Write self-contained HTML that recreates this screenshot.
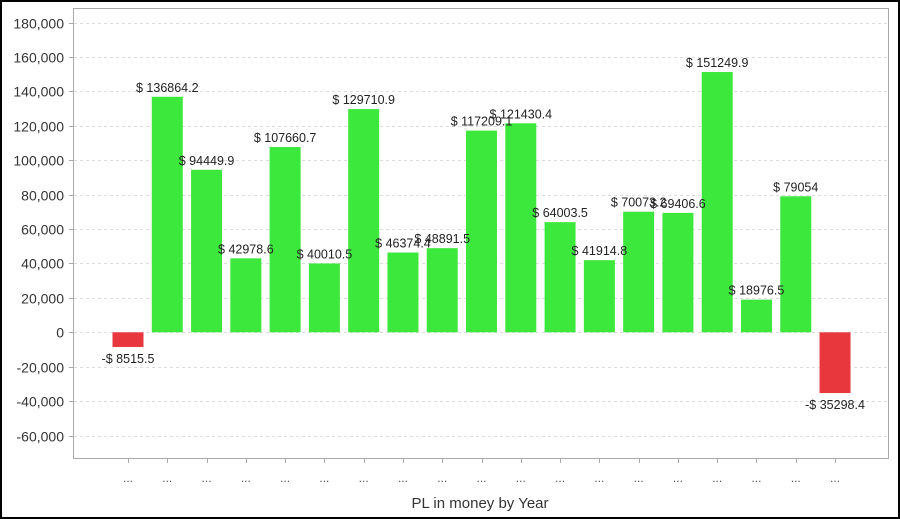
<!DOCTYPE html>
<html><head><meta charset="utf-8"><style>
html,body{margin:0;padding:0;background:#fff}
svg{display:block;font-family:"Liberation Sans",Arial,sans-serif}
</style></head><body>
<svg id="chart" width="900" height="519" viewBox="0 0 900 519" xmlns="http://www.w3.org/2000/svg">
<rect x="1" y="1" width="898" height="517" fill="#fff" stroke="#000" stroke-width="2"/>
<rect x="73.5" y="8.5" width="815" height="450" fill="#fff" stroke="#aaa" stroke-width="1"/>
<g id="grid"></g><g id="bars"></g><g id="labels"></g><g id="axes"></g>
<text x="480" y="508" font-size="15" text-anchor="middle" fill="#333">PL in money by Year</text>
</svg>
<script>
const categories = ["...","...","...","...","...","...","...","...","...","...","...","...","...","...","...","...","...","...","..."];
const values = [-8515.5,136864.2,94449.9,42978.6,107660.7,40010.5,129710.9,46374.4,48891.5,117209.1,121430.4,64003.5,41914.8,70073.2,69406.6,151249.9,18976.5,79054,-35298.4];
const valueLabels = ["-$ 8515.5","$ 136864.2","$ 94449.9","$ 42978.6","$ 107660.7","$ 40010.5","$ 129710.9","$ 46374.4","$ 48891.5","$ 117209.1","$ 121430.4","$ 64003.5","$ 41914.8","$ 70073.2","$ 69406.6","$ 151249.9","$ 18976.5","$ 79054","-$ 35298.4"];
const yTicks = [180000,160000,140000,120000,100000,80000,60000,40000,20000,0,-20000,-40000,-60000];
const NS="http://www.w3.org/2000/svg";
const y = v => 332.3 - v*(413/240000);
const x = i => 128 + i*39.28;
const bw = 31;
function mk(t,a,p){const e=document.createElementNS(NS,t);for(const k in a)e.setAttribute(k,a[k]);p.appendChild(e);return e;}
const grid=document.getElementById('grid'),axes=document.getElementById('axes'),bars=document.getElementById('bars'),labels=document.getElementById('labels');
yTicks.forEach(t=>{
  const yy=Math.round(y(t))+0.5;
  const g=mk('line',{x1:74,x2:888,y1:yy,y2:yy,stroke:'#ddd','stroke-dasharray':'3,3'},grid);
  
  
  const tk=mk('line',{x1:69,x2:73,y1:yy,y2:yy,stroke:'#aaa'},axes);
  
  
  const tx=mk('text',{x:64,y:yy+5,'font-size':14,'text-anchor':'end',fill:'#333'},axes);
  
  
  tx.textContent=t.toLocaleString('en-US');
});
values.forEach((v,i)=>{
  const cx=x(i);
  const top=Math.min(y(v),y(0)),h=Math.abs(y(v)-y(0));
  const r=mk('rect',{x:cx-bw/2,y:top,width:bw,height:h,fill:v<0?'#e8383d':'#3de83d'},bars);
  
  
  const l=mk('text',{x:cx,y:v<0?y(v)+16:y(v)-5,'font-size':12.5,'text-anchor':'middle',fill:'#222'},labels);
  
  
  l.textContent=valueLabels[i];
  const tk=mk('line',{x1:Math.round(cx)+0.5,x2:Math.round(cx)+0.5,y1:459,y2:463,stroke:'#aaa'},axes);
  
  
  const c=mk('text',{x:cx,y:482,'font-size':12,'text-anchor':'middle',fill:'#555'},axes);
  
  
  c.textContent=categories[i];
});
</script>
</body></html>
